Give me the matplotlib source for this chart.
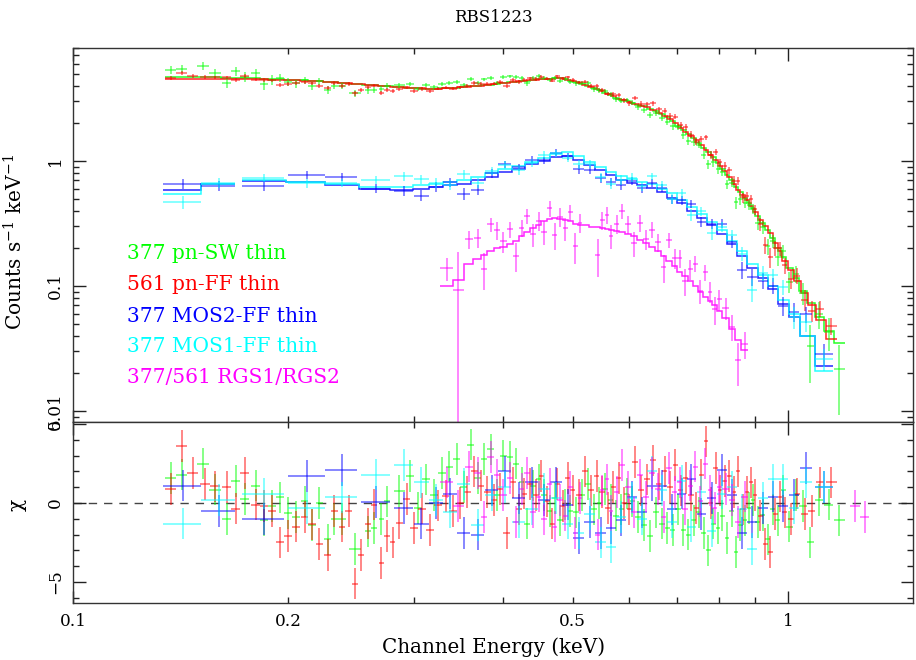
import numpy as np
import matplotlib
matplotlib.use('Agg')
import matplotlib.pyplot as plt
from matplotlib.ticker import FixedLocator, FixedFormatter, NullFormatter, FuncFormatter

plt.rcParams['font.family'] = 'DejaVu Serif'
plt.rcParams['mathtext.fontset'] = 'dejavuserif'

# ---- 377 pn-SW thin (green) ----
e_sw = [0.137, 0.142, 0.152, 0.158, 0.164, 0.169, 0.174, 0.180, 0.185, 0.190,
        0.195, 0.200, 0.205, 0.211, 0.216, 0.221, 0.227, 0.232, 0.238, 0.248,
        0.259, 0.264, 0.270, 0.275, 0.286, 0.296, 0.304, 0.312, 0.320, 0.328,
        0.336, 0.344, 0.352, 0.360, 0.368, 0.376, 0.384, 0.392, 0.400, 0.408,
        0.416, 0.424, 0.432, 0.440, 0.448, 0.456, 0.464, 0.472, 0.480, 0.488,
        0.496, 0.505, 0.515, 0.525, 0.535, 0.545, 0.555, 0.565, 0.575, 0.585,
        0.595, 0.606, 0.618, 0.630, 0.642, 0.654, 0.666, 0.678, 0.690, 0.702,
        0.714, 0.726, 0.738, 0.750, 0.762, 0.774, 0.786, 0.798, 0.810, 0.822,
        0.834, 0.846, 0.858, 0.870, 0.882, 0.894, 0.907, 0.922, 0.937, 0.952,
        0.968, 0.985, 1.005, 1.025, 1.050, 1.075, 1.105, 1.140, 1.180]
model_sw = [4.70, 4.70, 4.68, 4.66, 4.64, 4.62, 4.60, 4.58, 4.56, 4.54,
            4.51, 4.48, 4.45, 4.41, 4.38, 4.34, 4.30, 4.26, 4.22, 4.15,
            4.07, 4.03, 3.99, 3.96, 3.90, 3.85, 3.82, 3.80, 3.80, 3.81,
            3.83, 3.87, 3.91, 3.95, 3.99, 4.04, 4.09, 4.15, 4.20, 4.25,
            4.30, 4.35, 4.40, 4.45, 4.49, 4.53, 4.56, 4.58, 4.59, 4.53,
            4.40, 4.28, 4.12, 3.98, 3.82, 3.68, 3.52, 3.38, 3.22, 3.10,
            3.00, 2.91, 2.83, 2.73, 2.62, 2.50, 2.36, 2.23, 2.08, 1.92,
            1.78, 1.64, 1.52, 1.40, 1.28, 1.17, 1.07, 0.97, 0.87, 0.78,
            0.70, 0.62, 0.56, 0.51, 0.46, 0.41, 0.36, 0.32, 0.28, 0.24,
            0.20, 0.17, 0.14, 0.115, 0.092, 0.073, 0.057, 0.044, 0.035]
chi_sw = [1.6, 1.8, 2.5, 0.85, -1.0, 1.4, 0.25, 1.1, -1.1, -0.2,
          0.35, -0.65, -0.9, 0.1, -1.4, 0.0, -2.3, -1.0, -1.0, -2.9,
          -1.8, -1.6, -1.0, 0.1, 0.75, 1.7, -0.3, 1.5, 0.5, 1.9,
          2.3, 2.8, 1.0, 3.7, 1.6, 2.8, 3.4, 0.5, 3.0, 2.9,
          2.5, 1.3, -1.3, 1.1, 1.5, 0.5, -0.5, 0.3, -1.1, -0.1,
          -0.5, -0.6, 0.5, 1.2, -0.4, 0.0, 0.9, 0.2, -0.8, -0.4,
          0.6, 0.1, -0.9, -1.4, -2.1, -0.6, -1.3, -1.6, -1.7, -0.4,
          -1.7, -2.0, -1.1, -0.6, -1.9, -3.0, -1.3, -1.6, -0.8, -2.2,
          -0.5, -3.1, -1.4, -1.1, -0.3, 0.2, -1.2, -0.75, -2.3, -0.4,
          -1.1, 0.8, -1.5, 0.5, -0.2, -2.5, 0.2, -0.1, -1.1]
err_sw = [0.09, 0.09, 0.09, 0.09, 0.09, 0.09, 0.09, 0.09, 0.09, 0.09,
          0.08, 0.07, 0.07, 0.065, 0.065, 0.06, 0.06, 0.06, 0.055, 0.055,
          0.055, 0.05, 0.05, 0.05, 0.045, 0.045, 0.04, 0.04, 0.04, 0.04,
          0.04, 0.04, 0.04, 0.04, 0.04, 0.04, 0.04, 0.04, 0.04, 0.04,
          0.04, 0.04, 0.04, 0.04, 0.04, 0.04, 0.04, 0.04, 0.04, 0.04,
          0.04, 0.04, 0.04, 0.04, 0.042, 0.042, 0.042, 0.044, 0.044, 0.045,
          0.045, 0.046, 0.047, 0.048, 0.05, 0.05, 0.052, 0.052, 0.054, 0.055,
          0.056, 0.058, 0.06, 0.062, 0.064, 0.066, 0.068, 0.07, 0.072, 0.075,
          0.078, 0.08, 0.083, 0.086, 0.09, 0.094, 0.1, 0.105, 0.11, 0.12,
          0.13, 0.14, 0.15, 0.17, 0.19, 0.22, 0.25, 0.28, 0.35]

# ---- 561 pn-FF thin (red) ----
e_ff = [0.137, 0.142, 0.147, 0.153, 0.158, 0.164, 0.169, 0.174, 0.180, 0.185,
        0.190, 0.195, 0.200, 0.205, 0.211, 0.216, 0.221, 0.227, 0.232, 0.238,
        0.243, 0.248, 0.253, 0.259, 0.264, 0.270, 0.275, 0.280, 0.286, 0.293,
        0.300, 0.308, 0.316, 0.324, 0.332, 0.340, 0.348, 0.356, 0.364, 0.372,
        0.380, 0.388, 0.396, 0.404, 0.412, 0.420, 0.428, 0.436, 0.444, 0.452,
        0.460, 0.468, 0.476, 0.484, 0.492, 0.500, 0.510, 0.520, 0.530, 0.540,
        0.550, 0.560, 0.570, 0.580, 0.590, 0.600, 0.612, 0.624, 0.636, 0.648,
        0.660, 0.672, 0.684, 0.696, 0.708, 0.720, 0.732, 0.744, 0.756, 0.768,
        0.780, 0.792, 0.804, 0.816, 0.828, 0.840, 0.852, 0.864, 0.876, 0.888,
        0.900, 0.915, 0.930, 0.945, 0.960, 0.975, 0.990, 1.010, 1.030, 1.055,
        1.080, 1.110, 1.150]
model_ff = [4.50, 4.50, 4.50, 4.50, 4.50, 4.50, 4.50, 4.50, 4.50, 4.49,
            4.48, 4.46, 4.45, 4.43, 4.40, 4.37, 4.33, 4.29, 4.26, 4.22,
            4.19, 4.15, 4.11, 4.07, 4.03, 3.99, 3.96, 3.93, 3.90, 3.86,
            3.83, 3.81, 3.80, 3.80, 3.82, 3.85, 3.89, 3.93, 3.97, 4.01,
            4.07, 4.12, 4.17, 4.23, 4.28, 4.33, 4.38, 4.43, 4.47, 4.51,
            4.55, 4.57, 4.59, 4.58, 4.48, 4.35, 4.20, 4.05, 3.90, 3.75,
            3.60, 3.45, 3.30, 3.15, 3.05, 2.95, 2.87, 2.78, 2.68, 2.56,
            2.44, 2.29, 2.17, 2.00, 1.85, 1.70, 1.58, 1.46, 1.34, 1.22,
            1.12, 1.02, 0.92, 0.83, 0.74, 0.66, 0.59, 0.53, 0.49, 0.44,
            0.39, 0.34, 0.30, 0.265, 0.22, 0.19, 0.16, 0.135, 0.11, 0.088,
            0.07, 0.053, 0.038]
chi_ff = [0.9, 3.6, 1.9, 1.2, 1.05, 1.0, -0.35, 1.9, -0.1, -0.2,
          -0.5, -2.5, -2.1, -1.5, -0.9, -1.35, -2.6, -3.3, -0.5, -1.5,
          -0.5, -5.1, -3.3, -1.3, -0.1, -3.8, -2.1, -2.5, -1.25, 0.25,
          -1.6, -0.35, -1.7, -0.15, 0.45, -0.5, 0.0, 0.7, 2.0, 1.1,
          0.7, 0.2, 0.9, -1.9, 1.3, -0.4, 0.6, 1.2, 0.5, 1.7,
          0.1, -1.3, 1.2, -0.2, 1.6, 0.8, 0.5, 2.0, 0.8, 1.7,
          0.7, -0.3, 1.0, 1.6, 0.0, -0.4, 2.6, 0.8, 1.5, 2.7,
          1.2, 2.0, 1.0, 2.4, 0.8, 1.6, 0.5, -0.3, 1.8, 3.9,
          0.0, 2.2, 0.8, 1.4, 1.7, 0.7, 2.0, -0.4, 0.7, 1.3,
          0.5, -0.8, -2.6, -3.1, -0.7, 0.4, -0.6, -1.0, 0.6, -0.7,
          -0.5, 1.3, 1.3]
err_ff = [0.035, 0.035, 0.035, 0.035, 0.035, 0.035, 0.035, 0.035, 0.035, 0.035,
          0.033, 0.033, 0.033, 0.033, 0.033, 0.033, 0.033, 0.033, 0.033, 0.033,
          0.032, 0.032, 0.032, 0.032, 0.032, 0.032, 0.032, 0.032, 0.032, 0.032,
          0.03, 0.03, 0.03, 0.03, 0.03, 0.03, 0.03, 0.03, 0.03, 0.03,
          0.03, 0.03, 0.03, 0.03, 0.03, 0.03, 0.03, 0.03, 0.03, 0.03,
          0.03, 0.03, 0.03, 0.03, 0.03, 0.031, 0.032, 0.033, 0.034, 0.035,
          0.036, 0.037, 0.038, 0.04, 0.041, 0.042, 0.043, 0.045, 0.046, 0.048,
          0.05, 0.052, 0.054, 0.056, 0.058, 0.06, 0.062, 0.064, 0.066, 0.068,
          0.07, 0.072, 0.075, 0.078, 0.08, 0.083, 0.086, 0.09, 0.094, 0.098,
          0.1, 0.105, 0.11, 0.115, 0.12, 0.13, 0.14, 0.15, 0.16, 0.17,
          0.18, 0.19, 0.2]

# ---- MOS2 (blue) and MOS1 (cyan), common binning ----
e_mos = [0.1425, 0.160, 0.185, 0.2125, 0.2375, 0.265, 0.290, 0.307, 0.322, 0.337,
         0.352, 0.368, 0.385, 0.402, 0.420, 0.438, 0.456, 0.474, 0.492, 0.510,
         0.528, 0.547, 0.566, 0.585, 0.605, 0.625, 0.645, 0.666, 0.688, 0.710,
         0.733, 0.757, 0.782, 0.808, 0.835, 0.863, 0.892, 0.922, 0.953, 0.985,
         1.020, 1.060, 1.125]
model_mos2 = [0.59, 0.66, 0.69, 0.68, 0.64, 0.60, 0.59, 0.60, 0.62, 0.64,
              0.66, 0.70, 0.75, 0.81, 0.87, 0.94, 1.00, 1.07, 1.10, 1.02,
              0.93, 0.84, 0.77, 0.71, 0.67, 0.64, 0.61, 0.56, 0.51, 0.46,
              0.40, 0.35, 0.305, 0.26, 0.215, 0.175, 0.14, 0.115, 0.095, 0.072,
              0.057, 0.040, 0.023]
model_mos1 = [0.54, 0.66, 0.70, 0.68, 0.65, 0.62, 0.62, 0.64, 0.66, 0.68,
              0.71, 0.75, 0.80, 0.86, 0.92, 0.99, 1.06, 1.13, 1.17, 1.09,
              0.99, 0.90, 0.82, 0.76, 0.72, 0.68, 0.65, 0.60, 0.55, 0.49,
              0.43, 0.375, 0.325, 0.28, 0.23, 0.19, 0.15, 0.122, 0.10, 0.078,
              0.060, 0.040, 0.021]
chi_mos2 = [1.1, -0.5, -1.0, 1.7, 2.1, 0.05, -0.3, -1.3, 0.0, 0.6,
            -1.9, -2.0, 0.8, 2.0, 0.3, 1.3, 0.2, 1.3, -0.1, -2.2,
            -1.2, -1.9, -1.6, -1.1, 0.4, -0.6, 1.1, 1.1, -0.4, 0.6,
            1.5, -0.7, 0.3, 2.1, 0.5, -1.9, -1.2, -0.3, 0.4, -0.2,
            0.5, 2.2, 1.0]
chi_mos1 = [-1.3, 0.2, 0.6, -0.3, 0.35, 1.8, 2.4, 1.3, 0.2, -0.6,
            1.2, -1.4, 0.5, 1.0, -1.2, -0.4, 0.9, 0.3, -1.3, -1.9,
            -0.7, -2.5, -2.8, -0.9, 0.3, -1.0, 2.0, 0.8, -1.2, 1.4,
            -1.5, 0.7, -1.8, 0.6, 1.0, -0.4, -2.9, 0.3, 1.5, 1.5,
            -0.3, 1.3, 1.0]
err_mos = [0.10, 0.09, 0.08, 0.08, 0.08, 0.08, 0.09, 0.09, 0.09, 0.09,
           0.09, 0.08, 0.08, 0.08, 0.07, 0.07, 0.07, 0.07, 0.07, 0.07,
           0.07, 0.07, 0.07, 0.08, 0.08, 0.08, 0.08, 0.08, 0.08, 0.09,
           0.09, 0.09, 0.10, 0.10, 0.11, 0.12, 0.13, 0.14, 0.15, 0.17,
           0.19, 0.22, 0.25]

# ---- RGS1/RGS2 (magenta) ----
e_rgs = [0.333, 0.346, 0.358, 0.368, 0.376, 0.384, 0.392, 0.400, 0.408, 0.416,
         0.424, 0.432, 0.440, 0.448, 0.456, 0.464, 0.472, 0.480, 0.488, 0.496,
         0.504, 0.512, 0.542, 0.550, 0.558, 0.566, 0.576, 0.586, 0.598, 0.610,
         0.622, 0.634, 0.646, 0.658, 0.670, 0.682, 0.694, 0.706, 0.718, 0.730,
         0.742, 0.754, 0.766, 0.778, 0.790, 0.802, 0.818, 0.834, 0.852, 0.870,
         1.240, 1.280]
model_rgs = [0.100, 0.112, 0.150, 0.165, 0.178, 0.190, 0.200, 0.205, 0.215, 0.230,
             0.250, 0.270, 0.290, 0.310, 0.330, 0.345, 0.350, 0.345, 0.340, 0.330,
             0.315, 0.305, 0.295, 0.290, 0.285, 0.280, 0.275, 0.270, 0.260, 0.250,
             0.235, 0.220, 0.205, 0.190, 0.175, 0.160, 0.145, 0.130, 0.120, 0.110,
             0.100, 0.090, 0.082, 0.076, 0.070, 0.063, 0.055, 0.045, 0.037, 0.031,
             0.004, 0.003]
chi_rgs = [1.3, -0.2, 2.3, 1.9, -0.9, 2.9, 1.8, 0.5, 1.6, -1.2,
           0.9, 1.9, -0.6, 0.4, -1.0, 1.2, -1.5, 0.2, -0.8, 1.0,
           -1.9, 0.3, -2.0, 0.8, 1.5, -0.5, 0.7, 2.4, 1.0, -0.6,
           1.8, 0.4, 1.9, 0.9, -0.9, 2.2, 0.7, 1.3, -0.4, 1.1,
           2.3, 0.1, 2.5, 0.8, -0.3, 1.0, 0.9, 0.2, -1.2, 0.4,
           -0.2, -0.9]
err_rgs = [0.30, 0.85, 0.25, 0.25, 0.25, 0.22, 0.22, 0.22, 0.20, 0.20,
           0.18, 0.18, 0.18, 0.18, 0.18, 0.18, 0.18, 0.18, 0.18, 0.18,
           0.18, 0.18, 0.20, 0.20, 0.20, 0.20, 0.20, 0.20, 0.20, 0.20,
           0.20, 0.20, 0.20, 0.20, 0.21, 0.21, 0.21, 0.22, 0.22, 0.22,
           0.22, 0.22, 0.23, 0.23, 0.23, 0.24, 0.24, 0.25, 0.26, 0.27,
           0.50, 0.50]

labels = ['377 pn-SW thin', '561 pn-FF thin', '377 MOS2-FF thin',
          '377 MOS1-FF thin', '377/561 RGS1/RGS2']
colors = ['#00ff00', '#ff0000', '#0000ff', '#00ffff', '#ff00ff']


def half_widths(e):
    gaps = np.diff(e)
    hw = np.empty(len(e))
    hw[0] = gaps[0] / 2
    hw[-1] = gaps[-1] / 2
    hw[1:-1] = np.minimum(gaps[:-1], gaps[1:]) / 2
    return hw


def draw(ax_top, ax_res, e, model, chi, relerr, color):
    e = np.asarray(e)
    model = np.asarray(model)
    chi = np.asarray(chi)
    sig = model * np.asarray(relerr)
    data = model + chi * sig
    hw = half_widths(e)
    lower = data - np.clip(data - sig, 1e-5, None)
    ax_top.errorbar(e, data, xerr=hw, yerr=[lower, sig], fmt='none',
                    ecolor=color, elinewidth=1.1, alpha=0.6)
    # model histogram, broken where the binning jumps
    breaks = np.where(e[1:] / e[:-1] > 1.15)[0] + 1
    for run in np.split(np.arange(len(e)), breaks):
        ee = e[run]
        edges = np.concatenate([[ee[0] - hw[run[0]]], (ee[1:] + ee[:-1]) / 2,
                                [ee[-1] + hw[run[-1]]]])
        ax_top.stairs(model[run], edges, baseline=None, color=color,
                      lw=1.1, alpha=0.85)
    ax_res.errorbar(e, chi, xerr=hw, yerr=1.0, fmt='none',
                    ecolor=color, elinewidth=1.1, alpha=0.6)


fig = plt.figure(figsize=(9.16, 6.6), dpi=100)
ax1 = fig.add_axes([0.0797, 0.3606, 0.917, 0.5667])
ax2 = fig.add_axes([0.0797, 0.0864, 0.917, 0.2742])

ax2.axhline(0, color='#444444', lw=1.0, dashes=(6, 5), zorder=0)

series = [(e_sw, model_sw, chi_sw, err_sw),
          (e_ff, model_ff, chi_ff, err_ff),
          (e_mos, model_mos2, chi_mos2, err_mos),
          (e_mos, model_mos1, chi_mos1, err_mos),
          (e_rgs, model_rgs, chi_rgs, err_rgs)]
for (e, m, c, r), col in zip(series, colors):
    draw(ax1, ax2, e, m, c, r, col)

ly = [0.435, 0.353, 0.268, 0.188, 0.1035]
for txt, col, y in zip(labels, colors, ly):
    ax1.text(0.064, y, txt, color=col, fontsize=14.5, va='baseline',
             transform=ax1.transAxes)

minor_x = [0.2, 0.3, 0.4, 0.5, 0.6, 0.7, 0.8, 0.9]
for ax in (ax1, ax2):
    ax.set_xscale('log')
    ax.set_xlim(0.1, 1.496)
    ax.xaxis.set_major_locator(FixedLocator([0.1, 1.0]))
    ax.xaxis.set_minor_locator(FixedLocator(minor_x))
    ax.tick_params(which='both', direction='in', top=True, right=True,
                   width=1.0, color='#222222', labelsize=12.2)
    ax.tick_params(which='major', length=9)
    ax.tick_params(which='minor', length=4.5)
    ax.tick_params(axis='y', labelrotation=90, pad=6.5)
    ax.tick_params(axis='x', which='both', pad=7)
    for s in ax.spines.values():
        s.set_color('#333333')
        s.set_linewidth(1.0)

ax1.xaxis.set_major_formatter(NullFormatter())
ax1.xaxis.set_minor_formatter(NullFormatter())
ax2.xaxis.set_major_formatter(FixedFormatter(['0.1', '1']))
ax2.xaxis.set_minor_formatter(
    FuncFormatter(lambda v, p: {0.2: '0.2', 0.5: '0.5'}.get(round(v, 2), '')))

ax1.set_yscale('log')
ax1.set_ylim(0.00817, 8.02)
ax1.yaxis.set_major_locator(FixedLocator([0.01, 0.1, 1.0]))
ax1.yaxis.set_major_formatter(FixedFormatter(['0.01', '0.1', '1']))
ax1.yaxis.set_minor_locator(FixedLocator(
    [k * 10.0 ** d for d in (-3, -2, -1, 0) for k in range(2, 10)]))
ax1.yaxis.set_minor_formatter(NullFormatter())
for t in ax1.get_yticklabels():
    t.set_va('center')

ax2.set_ylim(-6.33, 5.13)
ax2.yaxis.set_major_locator(FixedLocator([-5, 0, 5]))
ax2.yaxis.set_minor_locator(FixedLocator(range(-6, 6)))
for t in ax2.get_yticklabels():
    t.set_va('center')

ax1.set_ylabel('Counts s$^{-1}$ keV$^{-1}$', fontsize=14.5)
ax1.yaxis.set_label_coords(-0.055, 0.48)
ax2.set_ylabel('χ', fontsize=14.5)
ax2.yaxis.set_label_coords(-0.055, 0.54)

fig.text(0.5385, 1 - 653.0 / 660, 'Channel Energy (keV)', ha='center',
         va='baseline', fontsize=14.3)
fig.text(0.5385, 1 - 22.0 / 660, 'RBS1223', ha='center', va='baseline',
         fontsize=12)

fig.savefig('out.png', dpi=100)
